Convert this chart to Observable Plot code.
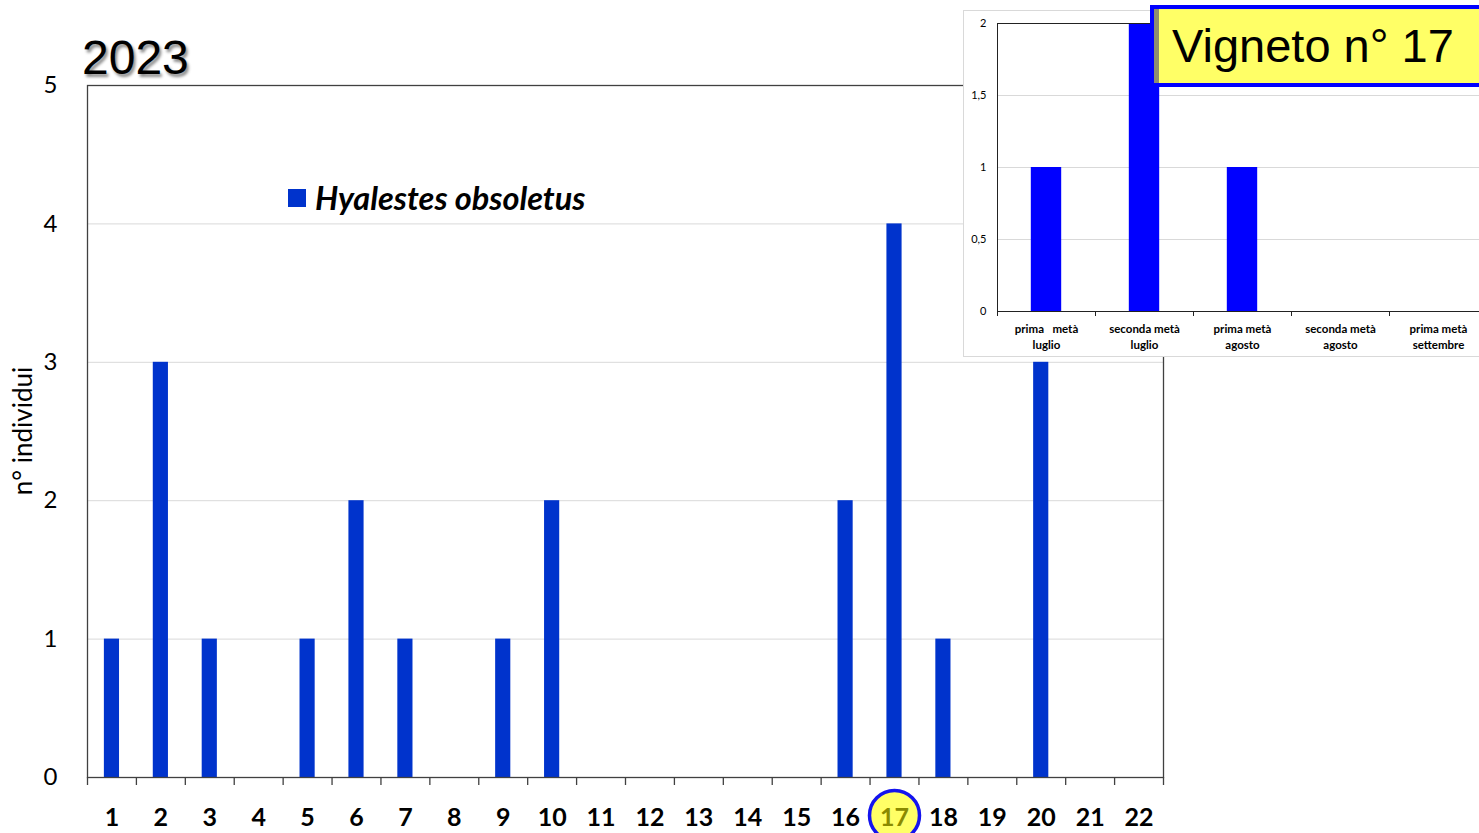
<!DOCTYPE html>
<html>
<head>
<meta charset="utf-8">
<script src="https://cdn.jsdelivr.net/npm/d3@7"></script>
<script src="https://cdn.jsdelivr.net/npm/@observablehq/plot@0.6"></script>
<style>
  html, body { margin: 0; padding: 0; background: #fff; }
  #wrap { position: relative; width: 1479px; height: 833px; overflow: hidden; font-family: Lato, "Open Sans", sans-serif; color: #000; }
  #main { position: absolute; left: 0; top: 0; }
  #title { position: absolute; left: 82px; top: 34px; font-family: "Liberation Sans", Arial, sans-serif; font-size: 48px; line-height: 48px; text-shadow: 2px 3px 3px rgba(0,0,0,0.45); }
  #ylabel { position: absolute; left: 22px; top: 431px; transform: translate(-50%, -50%) rotate(-90deg); font-size: 26px; white-space: nowrap; }
  #legend { position: absolute; left: 288px; top: 178px; display: flex; align-items: center; font-size: 32.5px; font-weight: bold; font-style: italic; }
  #legend .sw { width: 18px; height: 18px; background: #0033cc; margin-right: 9px; }
  #insetBox { position: absolute; left: 963px; top: 10px; width: 540px; height: 345px; background: #fff; border: 1px solid #d9d9d9; }
  #insetBox text { white-space: pre; }
  #tag { position: absolute; left: 1150px; top: 5px; width: 360px; height: 74px; background: #ffff66; border: 4px solid #0000ff; box-shadow: inset 5px 0 0 #8c8c70; font-family: "Liberation Sans", Arial, sans-serif; font-size: 47px; line-height: 74px; padding-left: 18px; box-sizing: content-box; }
</style>
</head>
<body>
<div id="wrap">
  <div id="main"></div>
  <div id="title">2023</div>
  <div id="ylabel">n° individui</div>
  <div id="legend"><div class="sw"></div><span>Hyalestes obsoletus</span></div>
  <div id="insetBox"></div>
  <div id="tag">Vigneto n° 17</div>
</div>
<script>
// Main chart data
const vineyards = ["1","2","3","4","5","6","7","8","9","10","11","12","13","14","15","16","17","18","19","20","21","22"];
const counts = [1,3,1,0,1,2,1,0,1,2,0,0,0,0,0,2,4,1,0,3,0,0];
const yTicks = [0,1,2,3,4,5];
const highlighted = "17";

// Inset chart data (Vigneto 17)
const periods = ["prima   metà\nluglio","seconda metà\nluglio","prima metà\nagosto","seconda metà\nagosto","prima metà\nsettembre"];
const periodCounts = [1,2,1,0,0];
const insetTicks = [0,0.5,1,1.5,2];

const mainData = vineyards.map((v, i) => ({v, n: counts[i]}));
const insetData = periods.map((p, i) => ({p, n: periodCounts[i]}));

// main layout
const W = 1200, H = 833, ML = 87, MR = 37, MT = 85, MB = 56;
const plotW = W - ML - MR, plotH = H - MT - MB;
const step = plotW / vineyards.length;

const main = Plot.plot({
  width: W, height: H,
  marginLeft: ML, marginRight: MR, marginTop: MT, marginBottom: MB,
  style: {fontFamily: "Lato, 'Open Sans', sans-serif", background: "transparent", color: "#000", overflow: "visible"},
  x: {domain: vineyards, paddingInner: 0.69, paddingOuter: 0.345, round: false, axis: null, label: null},
  y: {domain: [0, 5], axis: null, label: null},
  marks: [
    Plot.gridY(yTicks.filter(t => t > 0 && t < 5), {stroke: "#d9d9d9", strokeOpacity: 1}),
    Plot.barY(mainData, {x: "v", y: "n", fill: "#0033cc"}),
    Plot.frame({stroke: "#404040", strokeWidth: 1.3}),
    Plot.axisY(yTicks, {tickSize: 0, tickPadding: 30, fontSize: 24, label: null, tickFormat: d => String(d)}),
    Plot.ruleX(vineyards, {x: d => d, dx: -step / 2, insetTop: plotH, insetBottom: -8, stroke: "#404040", strokeWidth: 1.3}),
    Plot.ruleX([vineyards[vineyards.length - 1]], {x: d => d, dx: step / 2, insetTop: plotH, insetBottom: -8, stroke: "#404040", strokeWidth: 1.3}),
    Plot.dot([highlighted], {x: d => d, frameAnchor: "bottom", dy: 38, r: 25, fill: "#ffff66", stroke: "#1414ee", strokeWidth: 3.5}),
    Plot.text(vineyards, {x: d => d, text: d => d, frameAnchor: "bottom", lineAnchor: "middle", dy: 40, fontSize: 25, fontWeight: "bold",
      fill: d => d === highlighted ? "#8a8a00" : "#000"})
  ]
});
document.getElementById("main").appendChild(main);

// inset layout
const IW = 540, IH = 345, IML = 33, IMR = 17, IMT = 12, IMB = 45;
const iplotW = IW - IML - IMR, iplotH = IH - IMT - IMB;
const istep = iplotW / periods.length;

const inset = Plot.plot({
  width: IW, height: IH,
  marginLeft: IML, marginRight: IMR, marginTop: IMT, marginBottom: IMB,
  style: {fontFamily: "Lato, 'Open Sans', sans-serif", background: "transparent", color: "#000", overflow: "visible"},
  x: {domain: periods, paddingInner: 0.69, paddingOuter: 0.345, round: false, axis: null, label: null},
  y: {domain: [0, 2], axis: null, label: null},
  marks: [
    Plot.gridY([0.5, 1, 1.5], {stroke: "#d9d9d9", strokeOpacity: 1}),
    Plot.barY(insetData, {x: "p", y: "n", fill: "#0000ff"}),
    Plot.frame({stroke: "#222"}),
    Plot.axisY(insetTicks, {tickSize: 0, tickPadding: 11, fontSize: 11, label: null, tickFormat: d => String(d).replace(".", ",")}),
    Plot.ruleX(periods, {x: d => d, dx: -istep / 2, insetTop: iplotH, insetBottom: -5, stroke: "#222"}),
    Plot.text(periods, {x: d => d, text: d => d, frameAnchor: "bottom", lineAnchor: "middle", dy: 24, fontSize: 11.5, fontWeight: "bold", lineHeight: 1.4})
  ]
});
document.getElementById("insetBox").appendChild(inset);
</script>
</body>
</html>
